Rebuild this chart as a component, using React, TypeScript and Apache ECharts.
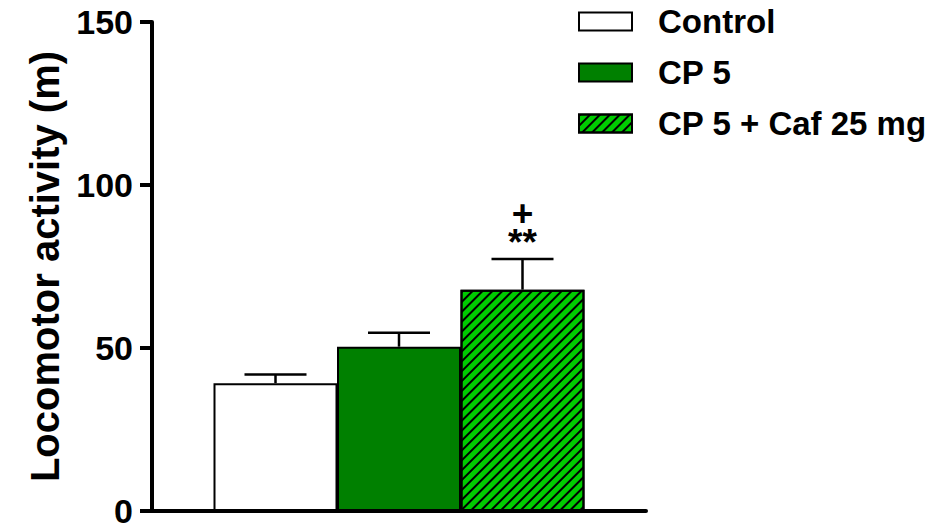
import React, { useEffect, useRef } from "react";
import * as echarts from "echarts";

const slots = ["", "Control", "CP 5", "CP 5 + Caf 25 mg", ""];
const seriesNames = ["Control", "CP 5", "CP 5 + Caf 25 mg"];
const means = [39.2, 50.4, 67.9];
const errTops = [41.9, 54.7, 77.3];
const sigLabels = ["", "", "+\n**"];
const yTicks = [0, 50, 100, 150];

const FONT = "'Liberation Sans', Arial, Helvetica, sans-serif";

export default function App() {
  const ref = useRef<HTMLDivElement>(null);
  useEffect(() => {
    if (!ref.current) return;
    const chart = echarts.init(ref.current, null, { renderer: "svg" });
    const fills = ["#ffffff", "#008000", "#00cc00"];
    const barSeries = seriesNames.map((name, i) => ({
      name,
      type: "bar",
      barWidth: 124,
      barGap: "-100%",
      data: slots.map((_, j) => (j === i + 1 ? means[i] : "-")),
      itemStyle: {
        color: fills[i],
        borderColor: "#000",
        borderWidth: 2,
        ...(i === 2
          ? {
              decal: {
                symbol: "rect",
                symbolSize: 1,
                dashArrayX: [20, 0],
                dashArrayY: [2, 5],
                rotation: -Math.PI / 4,
                color: "#000",
              },
            }
          : {}),
      },
      z: 2,
    }));
    const errData = means.map((m, i) => [i + 1, m, errTops[i], sigLabels[i]]);
    chart.setOption({
      animation: false,
      backgroundColor: "#fff",
      grid: { left: 152, right: 301, top: 22, bottom: 14, containLabel: false },
      legend: {
        orient: "vertical",
        left: 573,
        top: 0,
        icon: "rect",
        itemWidth: 53,
        itemHeight: 18,
        itemGap: 18,
        data: seriesNames,
        itemStyle: { borderColor: "#000", borderWidth: 2 },
        textStyle: {
          fontFamily: FONT,
          fontWeight: "bold",
          fontSize: 33,
          color: "#000",
          lineHeight: 30,
          padding: [0, 0, 0, 21],
        },
      },
      xAxis: {
        type: "category",
        data: slots,
        boundaryGap: false,
        axisLine: { lineStyle: { color: "#000", width: 4 } },
        axisTick: { show: false },
        axisLabel: { show: false },
        splitLine: { show: false },
      },
      yAxis: {
        type: "value",
        min: yTicks[0],
        max: yTicks[yTicks.length - 1],
        interval: 50,
        name: "Locomotor activity (m)",
        nameLocation: "middle",
        nameGap: 64,
        nameTextStyle: { fontFamily: FONT, fontWeight: "bold", fontSize: 40, color: "#000" },
        axisLine: { show: true, lineStyle: { color: "#000", width: 4 } },
        axisTick: { show: true, length: 12, lineStyle: { color: "#000", width: 4 } },
        axisLabel: {
          fontFamily: FONT,
          fontWeight: "bold",
          fontSize: 34,
          lineHeight: 26,
          padding: [0, 0, 5, 0],
          color: "#000",
          margin: 19,
        },
        splitLine: { show: false },
      },
      series: [
        ...barSeries,
        {
          type: "custom",
          z: 3,
          data: errData,
          renderItem: (params: any, api: any) => {
            const x = api.value(0);
            const base = api.coord([x, api.value(1)]);
            const top = api.coord([x, api.value(2)]);
            const sig = errData[params.dataIndex][3] as string;
            const children: any[] = [
              { type: "line", shape: { x1: top[0], y1: base[1], x2: top[0], y2: top[1] }, style: { stroke: "#000", lineWidth: 2.5 } },
              { type: "line", shape: { x1: top[0] - 31, y1: top[1], x2: top[0] + 31, y2: top[1] }, style: { stroke: "#000", lineWidth: 2.5 } },
            ];
            if (sig) {
              children.push({
                type: "text",
                x: top[0],
                y: top[1] - 31,
                style: {
                  text: sig,
                  fontFamily: FONT,
                  fontWeight: "bold",
                  fontSize: 37,
                  lineHeight: 29,
                  fill: "#000",
                  align: "center",
                  verticalAlign: "middle",
                },
              });
            }
            return { type: "group", children };
          },
        },
      ],
    });
    return () => chart.dispose();
  }, []);
  return <div ref={ref} style={{ position: "absolute", left: 0, top: 0, width: 947, height: 528 }} />;
}
